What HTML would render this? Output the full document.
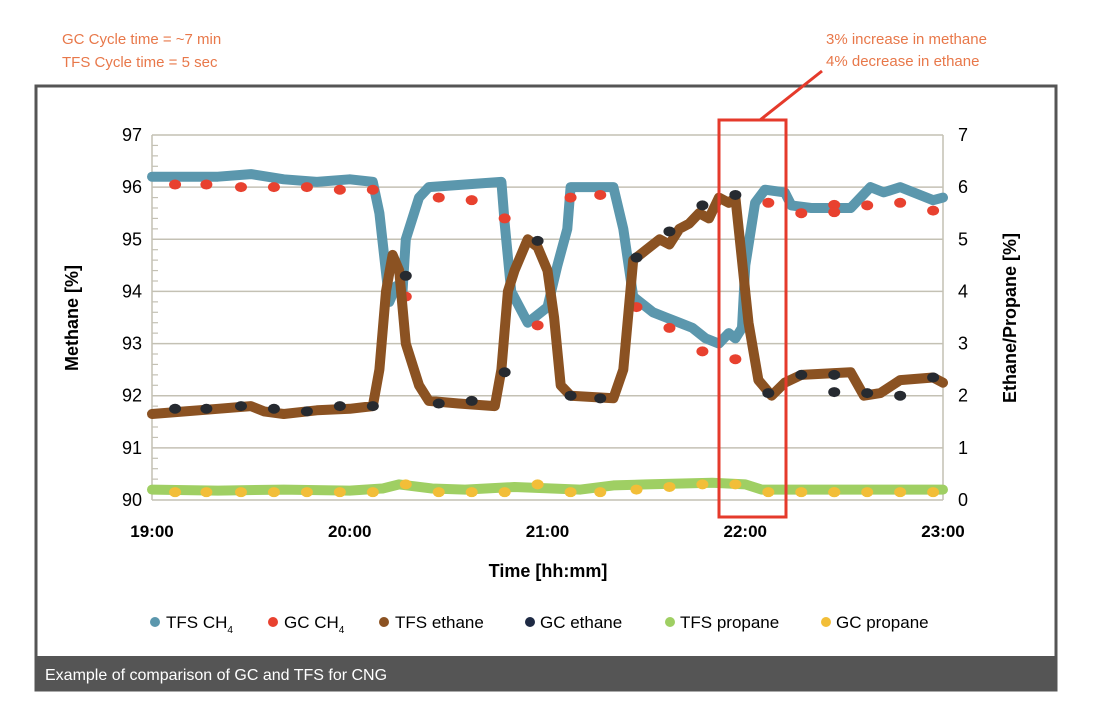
<!DOCTYPE html>
<html><head><meta charset="utf-8"><style>
body{margin:0;background:#fff;font-family:"Liberation Sans",sans-serif;}
svg{display:block}
</style></head><body>
<svg id="chart" width="1100" height="711" xmlns="http://www.w3.org/2000/svg" font-family="Liberation Sans, sans-serif">
<text x="62" y="44" font-size="15" fill="#e8784a">GC Cycle time = ~7 min</text>
<text x="62" y="67" font-size="15" fill="#e8784a">TFS Cycle time = 5 sec</text>
<text x="826" y="44" font-size="15" fill="#e8784a">3% increase in methane</text>
<text x="826" y="66" font-size="15" fill="#e8784a">4% decrease in ethane</text>
<rect x="36" y="86" width="1020" height="604" fill="none" stroke="#555" stroke-width="3"/>
<rect x="36" y="656" width="1021" height="34" fill="#555"/>
<text x="45" y="680" font-size="16" fill="#fff">Example of comparison of GC and TFS for CNG</text>
<g id="plot"></g>
<text transform="translate(78,318) rotate(-90)" text-anchor="middle" font-size="18" font-weight="bold">Methane [%]</text>
<text transform="translate(1016,318) rotate(-90)" text-anchor="middle" font-size="18" font-weight="bold">Ethane/Propane [%]</text>
<text x="548" y="577" text-anchor="middle" font-size="18" font-weight="bold">Time [hh:mm]</text>
<g font-size="17">
<g><circle cx="155" cy="622" r="5" fill="#5b97ad"/><text x="166" y="628">TFS CH<tspan font-size="10" dy="5">4</tspan></text></g>
<g><circle cx="273" cy="622" r="5" fill="#e8412f"/><text x="284" y="628">GC CH<tspan font-size="10" dy="5">4</tspan></text></g>
<g><circle cx="384" cy="622" r="5" fill="#8b5222"/><text x="395" y="628">TFS ethane</text></g>
<g><circle cx="530" cy="622" r="5" fill="#1e2a44"/><text x="540" y="628">GC ethane</text></g>
<g><circle cx="670" cy="622" r="5" fill="#9fcf63"/><text x="680" y="628">TFS propane</text></g>
<g><circle cx="826" cy="622" r="5" fill="#f2be38"/><text x="836" y="628">GC propane</text></g>
</g>
<rect x="719" y="120" width="67" height="397" fill="none" stroke="#e53a2b" stroke-width="3"/>
<line x1="760" y1="120" x2="822" y2="71" stroke="#e53a2b" stroke-width="3"/>
</svg>
<script>
// time in minutes from 19:00
const tfsCh4T = [0,10,20,30,40,50,60,67,69,72,74,76,77,81,84,95,106,107,109,114,118,120,123,126,127,140,143,146,148,152,156,160,164,168,172,175,177,179,180,183,186,192,194,200,212,218,222,227,237,240];
const tfsCh4V = [96.2,96.2,96.2,96.25,96.15,96.1,96.15,96.1,95.5,93.8,94.1,94.0,95.0,95.8,96.0,96.05,96.1,95.3,94.0,93.4,93.6,93.7,94.5,95.2,96.0,96.0,95.2,93.9,93.8,93.6,93.5,93.4,93.3,93.1,93.0,93.2,93.1,93.3,94.5,95.7,95.95,95.9,95.65,95.6,95.6,96.0,95.9,96.0,95.75,95.8];
const tfsEthT = [0,10,20,30,34,40,50,60,67,69,71,73,75,77,81,84,93,104,106,108,110,114,117,120,122,124,127,140,143,146,148,150,154,157,160,163,166,169,172,175,177,178,181,184,188,192,197,212,216,221,227,237,240];
const tfsEthV = [1.65,1.7,1.75,1.8,1.7,1.65,1.72,1.75,1.8,2.5,4.0,4.7,4.4,3.0,2.2,1.9,1.85,1.8,2.5,4.0,4.4,5.0,4.85,4.4,3.5,2.2,2.0,1.95,2.5,4.6,4.7,4.8,5.0,4.9,5.2,5.3,5.5,5.4,5.8,5.7,5.8,5.2,3.4,2.3,2.0,2.25,2.4,2.45,2.0,2.05,2.3,2.35,2.25];
const tfsPropT = [0,20,40,60,70,75,85,95,110,130,140,150,170,180,185,200,220,240];
const tfsPropV = [0.2,0.18,0.2,0.18,0.22,0.3,0.22,0.2,0.25,0.2,0.28,0.3,0.33,0.3,0.2,0.2,0.2,0.2];
const gcT = [7,16.5,27,37,47,57,67,77,87,97,107,117,127,136,147,157,167,177,187,197,207,207,217,227,237];
const gcCh4V = [96.05,96.05,96.0,96.0,96.0,95.95,95.95,93.9,95.8,95.75,95.4,93.35,95.8,95.85,93.7,93.3,92.85,92.7,95.7,95.5,95.66,95.52,95.65,95.7,95.55];
const gcEthV = [1.75,1.75,1.8,1.75,1.7,1.8,1.8,4.3,1.85,1.9,2.45,4.97,2.0,1.95,4.65,5.15,5.65,5.85,2.05,2.4,2.4,2.07,2.05,2.0,2.35];
const gcPropV = [0.15,0.15,0.15,0.15,0.15,0.15,0.15,0.3,0.15,0.15,0.15,0.3,0.15,0.15,0.2,0.25,0.3,0.3,0.15,0.15,0.15,0.15,0.15,0.15,0.15];
const leftTicks = ["90","91","92","93","94","95","96","97"];
const rightTicks = ["0","1","2","3","4","5","6","7"];
const xTicks = ["19:00","20:00","21:00","22:00","23:00"];

const X0=152,X1=943,Y0=500,Y1=135;
const xs=t=>X0+(t/240)*(X1-X0);
const yl=v=>Y0-(v-90)/7*(Y0-Y1);
const yr=v=>Y0-v/7*(Y0-Y1);
const NS="http://www.w3.org/2000/svg";
const g=document.getElementById('plot');
function mk(tag,attrs){const e=document.createElementNS(NS,tag);for(const k in attrs)e.setAttribute(k,attrs[k]);g.appendChild(e);return e;}

for(let i=0;i<leftTicks.length;i++){
  const y=yl(90+i);
  const ln=mk('line',{x1:X0,x2:X1,y1:y,y2:y,stroke:'#c4c1b4','stroke-width':1.5});
  
  
  const tl=mk('text',{x:142,y:y+6,'text-anchor':'end','font-size':18});
  tl.textContent=leftTicks[i];
  
  
  const tr=mk('text',{x:958,y:y+6,'font-size':18});
  tr.textContent=rightTicks[i];
  
  
  if(i<7){for(let m=1;m<5;m++){const yy=yl(90+i+m/5);
    const mt=mk('line',{x1:X0,x2:X0+6,y1:yy,y2:yy,stroke:'#c4c1b4','stroke-width':1.2});
    
    }}
}
const ax=mk('line',{x1:X0,x2:X0,y1:Y1,y2:Y0,stroke:'#c4c1b4','stroke-width':1.5});


const ax2=mk('line',{x1:X1,x2:X1,y1:Y1,y2:Y0,stroke:'#c4c1b4','stroke-width':1.5});


for(let i=0;i<xTicks.length;i++){
  const t=mk('text',{x:xs(i*60),y:537,'text-anchor':'middle','font-size':17,'font-weight':'bold'});
  t.textContent=xTicks[i];
  
  
}
function line(T,V,yf,color,name){
  const d=T.map((t,i)=>(i?'L':'M')+xs(t).toFixed(1)+','+yf(V[i]).toFixed(1)).join(' ');
  const p=mk('path',{d:d,fill:'none',stroke:color,'stroke-width':10,'stroke-linejoin':'round','stroke-linecap':'round'});
  
  
}
function dots(T,V,yf,color,name){
  for(let i=0;i<T.length;i++){
    const c=mk('ellipse',{cx:xs(T[i]),cy:yf(V[i]),rx:6,ry:5,fill:color});
    
    
  }
}
line(tfsPropT,tfsPropV,yr,'#9fcf63','tfs-propane-line');
dots(gcT,gcPropV,yr,'#f2be38','gc-propane-point');
line(tfsCh4T,tfsCh4V,yl,'#5b97ad','tfs-ch4-line');
dots(gcT,gcCh4V,yl,'#e8412f','gc-ch4-point');
line(tfsEthT,tfsEthV,yr,'#8b5222','tfs-ethane-line');
dots(gcT,gcEthV,yr,'#262a30','gc-ethane-point');
</script>
</body></html>
